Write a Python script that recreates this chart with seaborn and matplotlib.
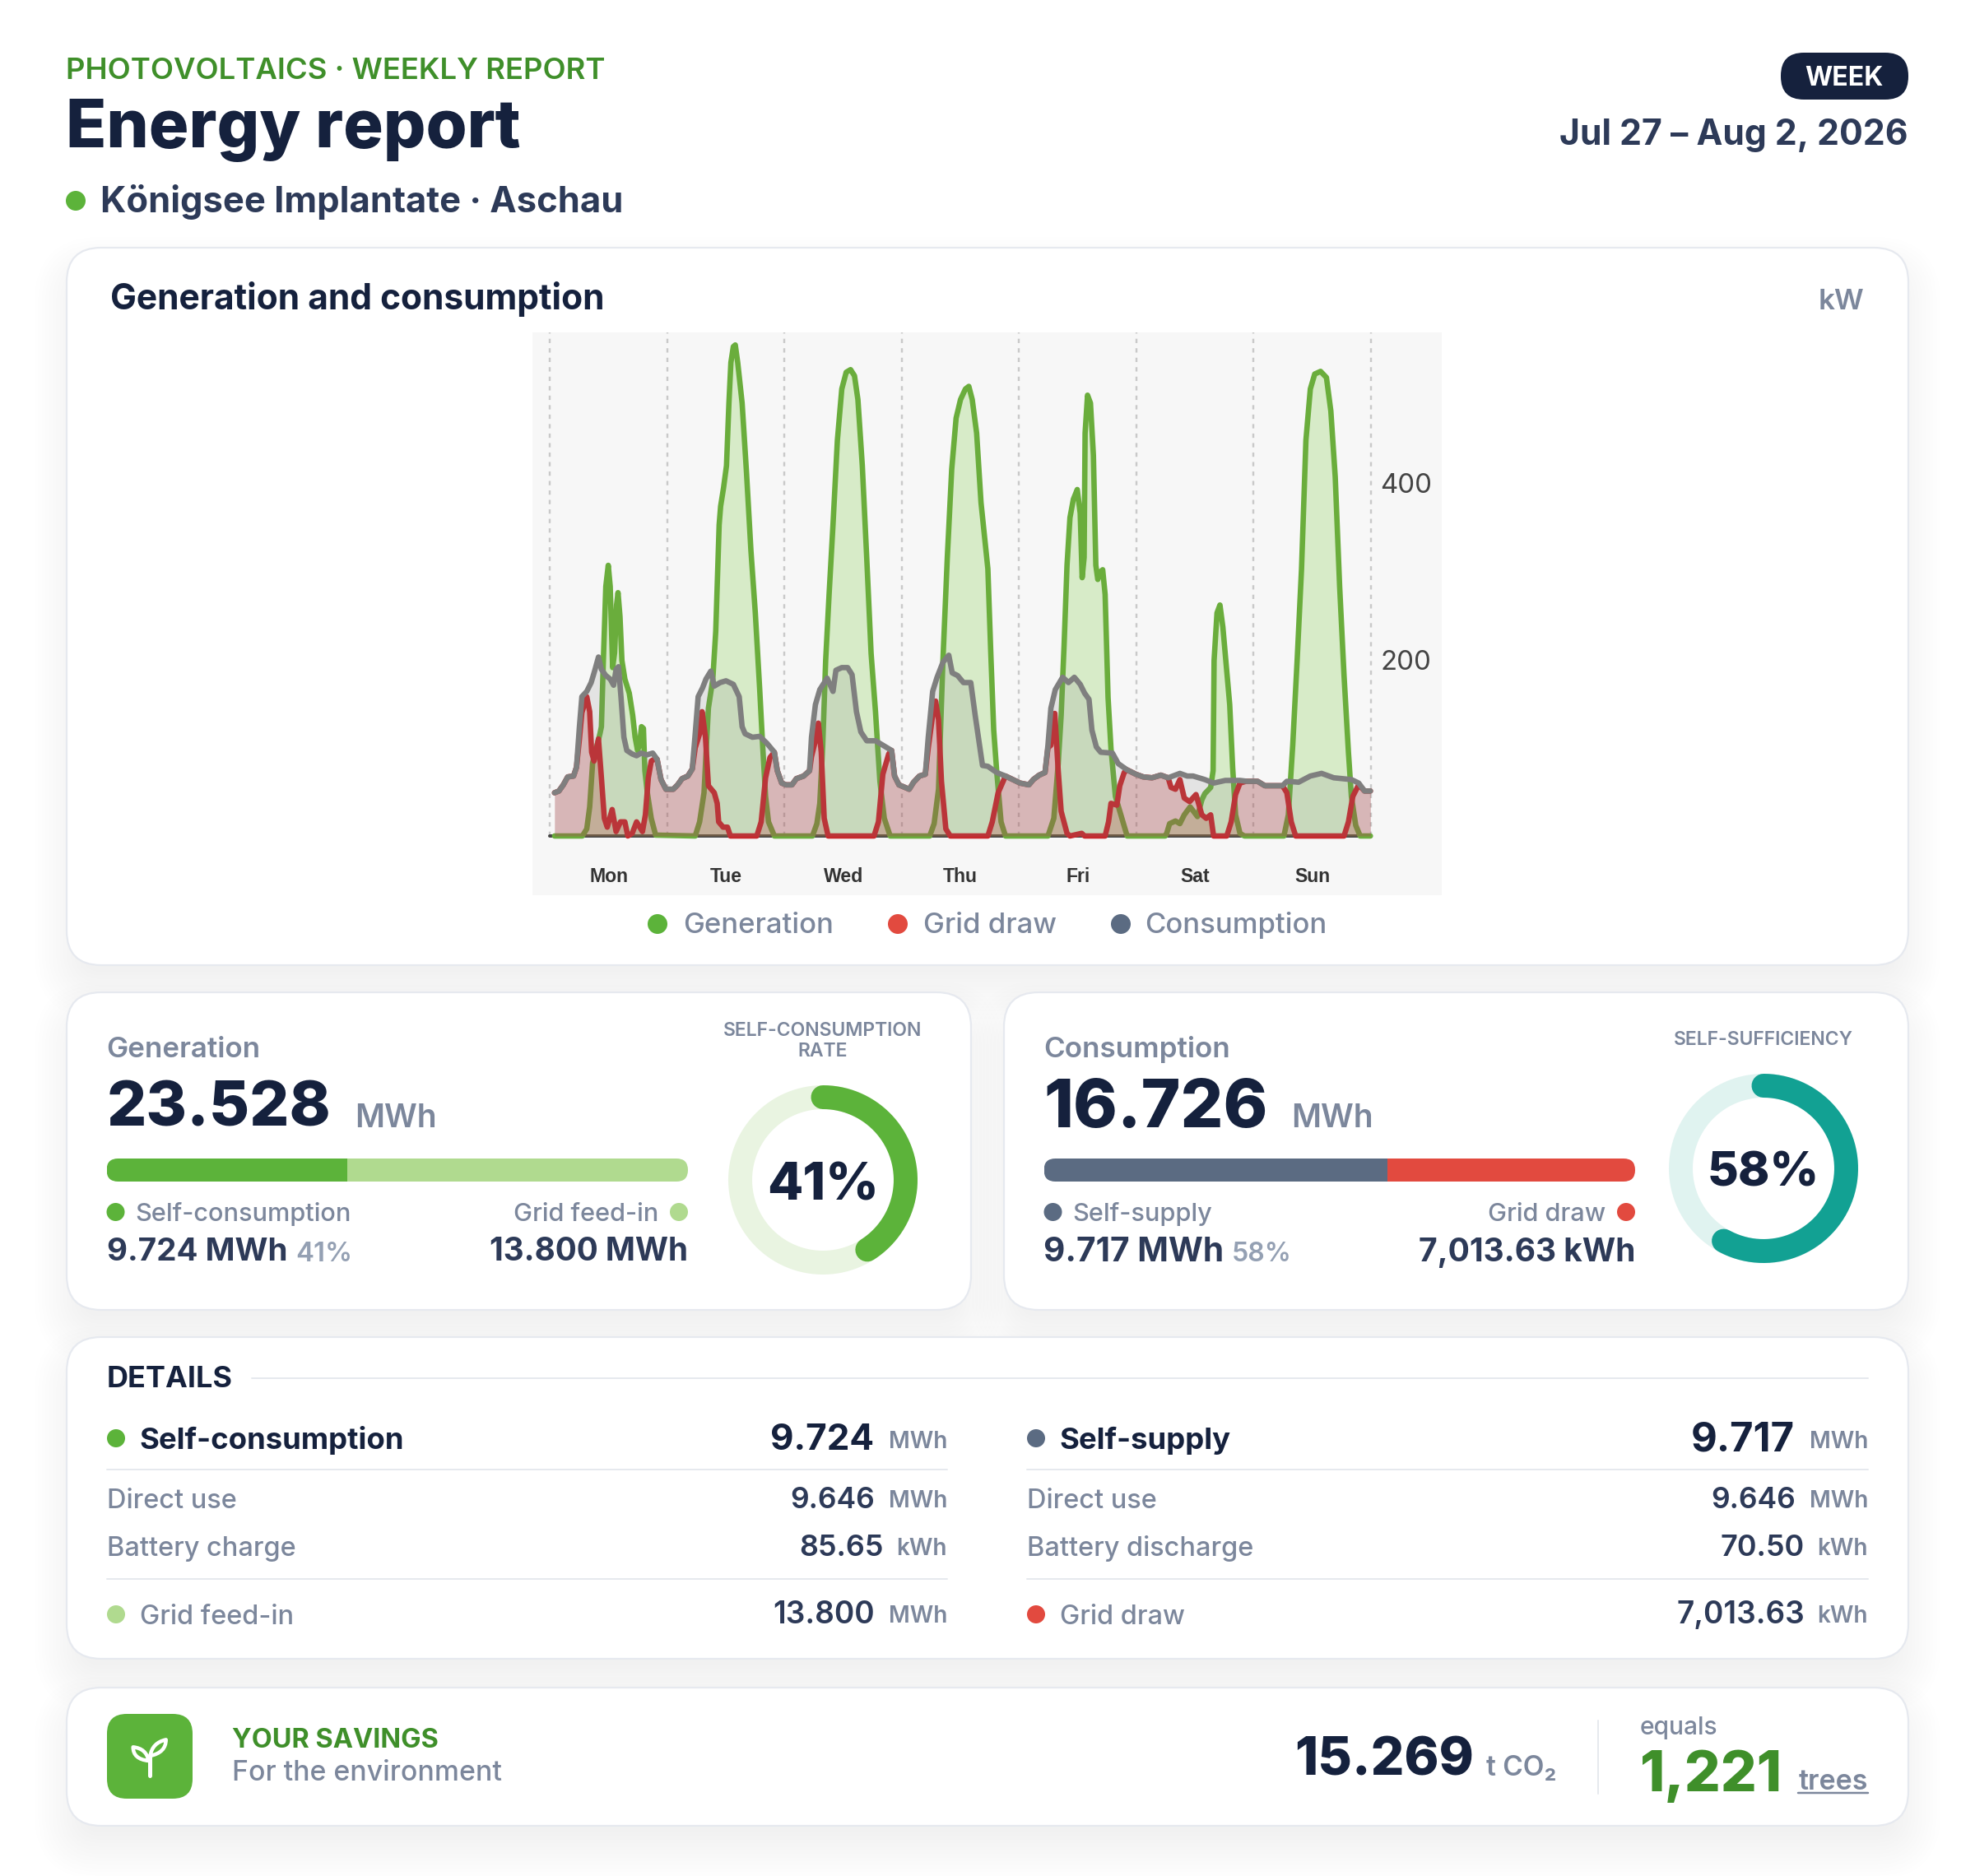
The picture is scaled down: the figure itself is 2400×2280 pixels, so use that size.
import numpy as np
import pandas as pd
import seaborn as sns
import matplotlib
matplotlib.use("Agg")
import matplotlib.pyplot as plt
from matplotlib.patches import FancyBboxPatch, Circle
from matplotlib.path import Path
from matplotlib.patches import PathPatch

# ---------- data (hours since Monday 00:00, kW) ----------
gen_h = [0.9,6.6,7.5,8.1,8.7,9.6,10.2,10.5,10.9,11.4,11.9,12.3,12.8,13.2,13.6,13.9,14.3,14.7,15.3,16.2,16.9,17.4,17.9,18.3,18.7,19.1,19.4,19.9,20.7,21.6,
         29.7,30.6,31.5,32.4,33.3,33.9,34.3,34.6,34.9,35.5,36.1,36.6,37,37.5,37.9,38.4,39.3,40.2,41.1,42,42.9,43.5,44.1,44.7,45.9,
         53.7,54.6,55.2,55.8,56.4,57.1,57.9,58.8,59.7,60.6,61.5,62.3,63,63.9,64.8,65.7,66.6,67.5,68.4,69.6,
         77.7,78.6,79.5,80.4,81.3,82.2,83.1,84,85,85.7,86.4,87.3,88.2,89.6,90.2,90.8,91.4,92.3,93.2,
         101.9,103.1,104,104.6,105.2,105.8,106.4,107.1,107.9,108.5,108.9,109.3,109.5,110,110.6,111.2,111.7,112.1,112.5,113.1,113.6,114.2,114.8,115.7,116.6,118.1,
         125.9,126.2,126.8,128,128.9,129.8,131,132.5,133.4,134,135.2,135.7,135.9,136.5,137.1,137.7,138.5,139.1,139.7,140.3,141.2,142.1,
         150.2,151.1,152,152.9,153.8,154.7,155.6,156.5,157.7,158.9,159.8,160.7,161.6,162.5,163.4,164,164.9,165.8,167.9]
gen_kw = [0,0,8,33,83,103,116,124,199,283,307,283,191,208,262,276,249,199,178,162,137,112,97,103,124,122,74,49,20,1,
          0,16,49,145,178,232,303,353,374,395,420,491,537,555,557,537,491,412,324,253,166,103,45,16,0,
          0,14,37,103,199,274,353,449,507,526,529,522,495,420,316,207,141,62,20,0,
          0,14,53,199,316,416,474,495,507,510,495,457,378,303,207,120,74,16,0,
          0,20,82,137,216,307,361,382,393,366,293,316,457,500,491,432,307,291,299,302,274,157,99,45,28,0,
          0,3,14,17,14,24,33,22,41,48,55,74,199,253,262,237,187,149,78,24,3,0,
          0,24,103,199,303,449,507,524,527,520,482,407,283,182,95,45,12,0,0]

grid_h = [0.9,1.8,2.7,3.6,4.8,5.4,6,6.5,7.5,8.1,8.5,9,9.9,10.5,11.1,11.7,12.7,13.5,14.4,15.3,15.9,16.8,17.7,18.9,19.5,20.1,20.7,21.3,
          21.9,22.7,23.7,25.2,26.1,27,28.2,29.1,29.7,30.6,31.1,31.8,32.4,33.6,34.2,34.5,35.4,36.3,36.9,42.3,43.2,44.1,45,45.9,
          46.5,47.4,48.3,49.5,50.4,51.9,53.1,53.5,54.3,54.9,55.5,56.1,56.9,66.3,67.2,68.1,69.3,69.9,
          70.5,71.4,73.5,74.4,75.6,76.8,77.4,78.3,78.9,79.5,80.1,81,81.9,89.6,90.5,91.7,92.9,93.2,
          94.7,96.2,98,98.9,100.1,101.3,101.9,102.5,103.3,104,104.6,105.8,106.4,108.8,109.4,113.6,114.3,114.8,116,116.6,117.5,118.1,
          119.9,121.4,123.2,125,126.5,127.1,128,128.9,129.8,130.9,132.2,133.4,134.3,135.2,135.8,138.5,139.4,140.3,141.2,142.4,144.8,146.3,149.9,150.8,151.7,152.6,162.5,163.4,164.3,165.5,166.7,167.9]
grid_kw = [49,51,58,67,68,78,110,140,158,141,95,85,110,66,20,10,30,5,16,16,0,3,16,5,24,66,85,87,
           87,64,53,53,58,65,68,76,100,116,141,112,57,49,37,16,10,10,0,0,16,66,89,95,
           74,60,58,58,65,68,74,90,108,128,95,20,0,0,16,70,93,97,
           68,58,53,61,68,70,100,137,153,132,62,8,0,0,16,49,64,68,
           64,60,58,64,69,72,100,103,139,74,28,3,0,3,0,0,16,37,35,57,72,75,
           70,67,66,69,66,55,53,64,43,39,47,24,20,24,0,0,16,47,60,62,62,57,57,49,16,0,0,16,45,58,51,51]

cons_h = [0.9,1.8,2.7,3.6,4.8,5.4,6,6.5,7.5,8.4,9.1,9.9,10.5,11.4,12.3,13,13.5,14,14.5,15.1,15.7,16.8,17.7,18.6,19.8,21,21.9,22.7,23.7,
          25.2,26.1,27,28.2,29.1,29.7,30.3,31.2,31.9,32.9,33.6,34.8,36,37.5,38.7,39.3,39.9,41.4,42.9,44.4,45.9,46.5,47.4,
          48.3,49.5,50.4,51.9,53.1,53.5,54.3,55.2,56.7,57.9,58.5,59.7,60.9,61.8,62.7,63.6,64.8,66.6,68.1,69.9,70.5,71.4,
          73.5,74.4,75.6,76.8,77.4,78.3,79.2,80.4,81.6,82.3,83.4,84.6,86.1,87,87.9,88.5,89.6,91.4,93.2,94.7,
          96.2,98,98.9,100.1,101.3,101.9,102.5,103.4,104.9,106.1,107.3,108.5,109.4,110.3,110.9,111.8,112.7,115.1,116.3,118.1,
          119.9,121.4,123.2,125,126.5,128.9,130.4,131.6,134,135.8,138.2,141.2,142.7,144.8,146.3,149.9,150.8,153.2,155.6,157.9,160.4,164,165.5,166.7,167.9]
cons_kw = [49,51,58,67,68,78,124,158,164,174,187,203,189,182,178,171,189,192,158,112,97,93,91,94,92,94,87,64,53,
           53,58,65,68,76,116,158,168,178,187,170,174,176,172,158,124,116,112,113,105,95,74,60,
           58,58,65,68,74,112,149,166,179,164,188,191,191,183,141,118,108,108,103,97,68,58,
           53,61,68,70,112,164,180,197,205,185,182,174,174,137,103,80,79,72,68,64,
           60,58,64,69,72,103,145,166,180,174,180,172,162,155,120,101,95,94,82,75,
           70,67,66,69,66,71,68,68,64,60,63,63,62,62,57,57,62,61,68,71,66,64,60,51,51]

day_labels = ["Mon","Tue","Wed","Thu","Fri","Sat","Sun"]
day_ticks = [12,36,60,84,108,132,156]
day_edges = [0,24,48,72,96,120,144,168]
kw_ticks = [200,400]

gen_split = [9.724, 13.800]
cons_split = [9.717, 7.01363]
self_consumption_rate = 41
self_sufficiency = 58

# ---------- colours ----------
NAVY="#15213d"; SLATE="#2d3a58"; MUTED="#7c879c"; SOFT="#94a0b3"
GREEN="#5cb33a"; LGREEN="#b0da8f"; DGREEN="#3f8f2a"; RED="#e24a3f"; STEEL="#5b6b82"; TEAL="#12a193"

sns.set_theme(style="white")
plt.rcParams["font.family"] = ["Inter","DejaVu Sans"]
plt.rcParams["axes.unicode_minus"] = False

W,H = 2400,2280
fig = plt.figure(figsize=(W/100,H/100),dpi=100,facecolor="white")
PX = 0.72

bg = fig.add_axes([0,0,1,1]); bg.set_xlim(0,W); bg.set_ylim(H,0); bg.axis("off")

def axes_px(x0,y0,x1,y1,**kw):
    return fig.add_axes([x0/W,1-y1/H,(x1-x0)/W,(y1-y0)/H],**kw)

def T(x,yc,s,px,color,weight=500,ha="left",family=None):
    kw = {"family":family} if family else {}
    return bg.text(x,yc+0.36*px,s,fontsize=px*PX,color=color,fontweight=weight,ha=ha,va="baseline",zorder=5,**kw)

def dot(x,y,r,c):
    bg.add_patch(Circle((x,y),r,fc=c,ec="none",zorder=3))

def card(x0,y0,x1,y1,r=42):
    for i in range(14):
        g=-18+i*4.4
        bg.add_patch(FancyBboxPatch((x0-g,y0+26-g),x1-x0+2*g,y1-y0+2*g,boxstyle=f"round,pad=0,rounding_size={max(r+g,8)}",
                                     fc="#1a2540",ec="none",alpha=0.0038,zorder=0,clip_on=False))
    bg.add_patch(FancyBboxPatch((x0,y0),x1-x0,y1-y0,boxstyle=f"round,pad=0,rounding_size={r}",
                                 fc="white",ec="#e6e9ef",lw=2.2*PX,zorder=1))

def rule(x0,x1,y,c="#e6e9ee"):
    bg.plot([x0,x1],[y,y],color=c,lw=2*PX,zorder=2)

# ---------- header ----------
T(80,83,"PHOTOVOLTAICS · WEEKLY REPORT",36.5,DGREEN,600)
T(80,150,"Energy report",81,NAVY,800)
dot(92,244,12,GREEN)
T(122,242,"Königsee Implantate · Aschau",43.5,SLATE,700)
bg.add_patch(FancyBboxPatch((2164,64),155,57,boxstyle="round,pad=0,rounding_size=28",fc=NAVY,ec="none",zorder=2))
T(2241,92,"WEEK",32,"white",700,ha="center")
T(2319,161,"Jul 27 – Aug 2, 2026",42.7,SLATE,700,ha="right")

# ---------- main chart card ----------
card(81,301,2319,1173)
T(134,361,"Generation and consumption",42.5,NAVY,700)
T(2265,363,"kW",35,MUTED,600,ha="right")

ax = axes_px(647,404,1752,1088)
ax.set_facecolor("#f7f7f7")
ax.set_xlim(-3.62,182.5); ax.set_ylim(-67.2,571.2)
for e in day_edges:
    ax.axvline(e,ymin=(0+67.2)/638.4,color="#c9c9c9",lw=2.4*PX,ls=(0,(2.2,2.6)),zorder=1)
ax.plot([0,168],[0,0],color="#444444",lw=4*PX,zorder=1.5)

df_gen = pd.DataFrame({"h":gen_h,"kw":gen_kw})
df_grid = pd.DataFrame({"h":grid_h,"kw":grid_kw})
df_cons = pd.DataFrame({"h":cons_h,"kw":cons_kw})
LW = 6.6*PX
ax.fill_between(gen_h,gen_kw,0,color="#78c83f",alpha=0.25,lw=0,zorder=2)
sns.lineplot(data=df_gen,x="h",y="kw",ax=ax,color="#6aad3c",lw=LW,estimator=None,sort=False,zorder=2.1,solid_joinstyle="round")
ax.fill_between(grid_h,grid_kw,0,color="#c0282c",alpha=0.26,lw=0,zorder=3)
sns.lineplot(data=df_grid,x="h",y="kw",ax=ax,color="#c6282c",lw=LW,estimator=None,sort=False,zorder=3.1,solid_joinstyle="round")
ax.fill_between(cons_h,cons_kw,0,color="#7f7f7f",alpha=0.16,lw=0,zorder=4)
sns.lineplot(data=df_cons,x="h",y="kw",ax=ax,color="#7f7f7f",lw=LW,estimator=None,sort=False,zorder=4.1,solid_joinstyle="round")
ax.set_xlabel(""); ax.set_ylabel("")
for s in ax.spines.values(): s.set_visible(False)
ax.yaxis.tick_right()
ax.set_yticks(kw_ticks); ax.set_yticklabels([str(k) for k in kw_ticks])
ax.tick_params(axis="y",length=0,pad=-75*PX,labelsize=33*PX,labelcolor="#444444")
ax.set_xticks(day_ticks); ax.set_xticklabels(day_labels,fontfamily="Liberation Sans",fontweight="bold")
ax.tick_params(axis="x",length=0,pad=-33.5*PX,labelsize=23*PX,labelcolor="#333333")

for x,tx,lab,c in [(799,830,"Generation",GREEN),(1091,1122,"Grid draw",RED),(1362,1391,"Consumption",STEEL)]:
    dot(x,1123,12,c); T(tx,1122,lab,34.7,MUTED,500)

# ---------- summary cards ----------
def summary(x0,x1,title,big,big_px,unit,unit_x,seg,c1,c2,l1,l2,v1,v1_px,pct,pct_px,pct_x,v2,v2_px,bar_x1,dcol1,dcol2):
    card(x0,1206,x1,1592)
    bx=x0+48.5
    T(bx,1272,title,35,MUTED,600)
    T(bx,1341,big,big_px,NAVY,800)
    T(unit_x,1356,unit,39,MUTED,600)
    a = axes_px(bx,1408,bar_x1,1436)
    a.set_xlim(0,sum(seg)); a.set_ylim(-.5,.5); a.axis("off")
    p=FancyBboxPatch((bx,1408),bar_x1-bx,28,boxstyle="round,pad=0,rounding_size=14",transform=bg.transData,fc="none",ec="none")
    bg.add_patch(p)
    b1=a.barh([0],[seg[0]],height=1,color=c1,lw=0)
    b2=a.barh([0],[seg[1]],left=[seg[0]],height=1,color=c2,lw=0)
    for b in list(b1)+list(b2): b.set_clip_path(p)
    dot(bx+11,1473,11,dcol1)
    T(bx+35,1473,l1,30.7,MUTED,500)
    T(bar_x1-36,1473,l2,30.7,MUTED,500,ha="right")
    dot(bar_x1-11,1473,11,dcol2)
    T(bx,1518.5,v1,v1_px,SLATE,700)
    T(pct_x,1521,pct,pct_px,SOFT,600)
    T(bar_x1,1518.5,v2,v2_px,SLATE,700,ha="right")

summary(81,1180,"Generation","23.528",75.7,"MWh",431,gen_split,GREEN,LGREEN,"Self-consumption","Grid feed-in","9.724 MWh",38.5,"41%",33,359,"13.800 MWh",38.7,836,GREEN,LGREEN)
summary(1220,2319,"Consumption","16.726",81.5,"MWh",1569,cons_split,STEEL,RED,"Self-supply","Grid draw","9.717 MWh",40.5,"58%",32,1497,"7,013.63 kWh",39,1987,STEEL,RED)

def donut(cx,cy,pct,col,track):
    R=115
    a=axes_px(cx-R,cy-R,cx+R,cy+R,projection="polar")
    a.set_theta_zero_location("N"); a.set_theta_direction(-1); a.set_ylim(0,1); a.axis("off"); a.patch.set_alpha(0)
    th=np.radians(np.arange(0,361))
    a.plot(th,np.full_like(th,100.5/115),color=track,lw=29*PX,clip_on=False)
    th2=np.radians(np.linspace(0,3.6*pct,200))
    a.plot(th2,np.full_like(th2,100.5/115),color=col,lw=29*PX,clip_on=False,solid_capstyle="round")

donut(1000,1434,self_consumption_rate,GREEN,"#e9f4e1")
donut(2143,1420,self_sufficiency,TEAL,"#e0f3f0")
T(1000,1251,"SELF-CONSUMPTION",23,MUTED,600,ha="center")
T(1000,1276,"RATE",23,MUTED,600,ha="center")
T(1000,1436,f"{self_consumption_rate}%",63,NAVY,800,ha="center")
T(2143,1262,"SELF-SUFFICIENCY",23,MUTED,600,ha="center")
T(2143,1421,f"{self_sufficiency}%",58,NAVY,800,ha="center")

# ---------- details ----------
card(81,1625,2319,2016)
T(130,1673,"DETAILS",36,NAVY,700)
rule(306,2270,1675)
def col(x0,x1,head,hdot,hval,hval_px,hu,r2,v2,u2,r3,v3,u3,r4,rdot,v4,u4):
    dot(x0+11,1748,11,hdot)
    T(x0+39,1748,head,36.5,NAVY,700)
    T(x1-89,1746,hval,hval_px,NAVY,700,ha="right")
    T(x1,1750,hu,28,MUTED,600,ha="right")
    rule(x0,x1,1786)
    T(x0,1821,r2,32.5,MUTED,500); T(x1-88,1820,v2,35.5,SLATE,600,ha="right"); T(x1,1822,u2,28,MUTED,600,ha="right")
    off = 0 if u3=="MWh" else 11
    T(x0,1879,r3,32.5,MUTED,500); T(x1-88+off,1878,v3,36,SLATE,600,ha="right"); T(x1,1880,u3,28,MUTED,600,ha="right")
    rule(x0,x1,1919)
    dot(x0+11,1962,11,rdot)
    T(x0+40,1962,r4,32.5,MUTED,500)
    off = 0 if u4=="MWh" else 11
    T(x1-88+off,1960,v4,37,SLATE,600,ha="right"); T(x1,1962,u4,28,MUTED,600,ha="right")
col(130,1151,"Self-consumption",GREEN,"9.724",44,"MWh","Direct use","9.646","MWh","Battery charge","85.65","kWh","Grid feed-in",LGREEN,"13.800","MWh")
col(1248,2270,"Self-supply",STEEL,"9.717",49,"MWh","Direct use","9.646","MWh","Battery discharge","70.50","kWh","Grid draw",RED,"7,013.63","kWh")

# ---------- savings ----------
card(81,2051,2319,2219)
bg.add_patch(FancyBboxPatch((130,2083),104,103,boxstyle="round,pad=0,rounding_size=24",fc=GREEN,ec="none",zorder=2))
bg.plot([181.7,181.7],[2133,2158],color="white",lw=5*PX,solid_capstyle="round",zorder=3)
leaf_r=Path([(182.5,2134),(185,2118),(201.7,2114.3),(201.7,2130),(182.5,2134)],[1,3,3,3,3])
leaf_l=Path([(180.5,2140),(178,2125),(161.7,2123.3),(161.7,2138),(180.5,2140)],[1,3,3,3,3])
for lf in (leaf_r,leaf_l):
    bg.add_patch(PathPatch(lf,fc="none",ec="white",lw=4.5*PX,joinstyle="round",zorder=3))
T(282,2112,"YOUR SAVINGS",32.5,DGREEN,700)
T(282,2152,"For the environment",33.8,MUTED,500)
T(1791,2134,"15.269",64,NAVY,800,ha="right")
T(1806,2146,"t CO₂",33.5,MUTED,600)
bg.plot([1942,1942],[2091,2180],color="#e6e9ee",lw=2*PX,zorder=2)
T(1993,2097,"equals",30,MUTED,500)
T(1993,2152,"1,221",69,DGREEN,800)
T(2270,2163,"trees",34,MUTED,600,ha="right")
bg.plot([2185,2270],[2179,2179],color=MUTED,lw=2.5*PX,zorder=2)

fig.savefig("out.png",dpi=100,facecolor="white")
